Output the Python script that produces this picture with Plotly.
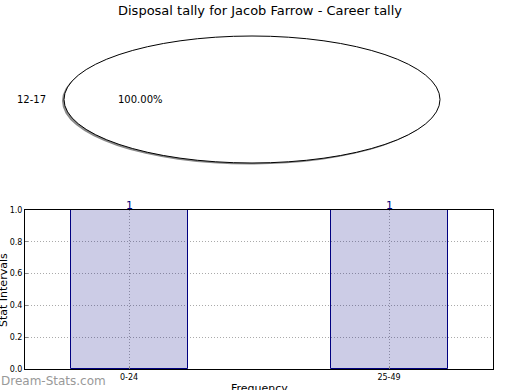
import plotly.graph_objects as go

title = "Disposal tally for Jacob Farrow - Career tally"
pie_labels = ["12-17"]
pie_values = [1]
bar_categories = ["0-24", "25-49"]
bar_values = [1, 1]
y_ticks = [0.0, 0.2, 0.4, 0.6, 0.8, 1.0]

W, H = 520, 390
def px(x): return x / W
def py(y): return 1 - y / H

fig = go.Figure()
xpos = list(range(len(bar_categories)))
fig.add_trace(go.Bar(
    x=xpos, y=bar_values, width=0.45,
    marker=dict(color="rgba(0,0,128,0.2)", line=dict(color="#000080", width=1)),
    hoverinfo="skip", showlegend=False,
))

total = sum(pie_values)
shapes = [
    # shadow
    dict(type="circle", xref="paper", yref="paper",
         x0=px(62), x1=px(438), y0=py(164.5), y1=py(37.5),
         line=dict(width=0), fillcolor="#8a8a8a", layer="below"),
    dict(type="circle", xref="paper", yref="paper",
         x0=px(64), x1=px(440), y0=py(163), y1=py(36),
         line=dict(color="#000000", width=1), fillcolor="#ffffff", layer="below"),
]
annotations = [
    dict(text=title, x=0.5, y=py(10.5), xref="paper", yref="paper", showarrow=False,
         font=dict(family="DejaVu Sans", size=13, color="#000"), xanchor="center", yanchor="middle"),
    dict(text=pie_labels[0], x=px(31), y=py(100), xref="paper", yref="paper", showarrow=False,
         font=dict(family="DejaVu Sans", size=10, color="#000"), xanchor="center", yanchor="middle"),
    dict(text="%.2f%%" % (100.0 * pie_values[0] / total), x=px(140), y=py(100), xref="paper", yref="paper",
         showarrow=False, font=dict(family="DejaVu Sans", size=10, color="#000"),
         xanchor="center", yanchor="middle"),
    dict(text="Stat Intervals", x=px(3), y=py(290), xref="paper", yref="paper", showarrow=False,
         textangle=-90, font=dict(family="DejaVu Sans", size=11, color="#000"),
         xanchor="center", yanchor="middle"),
    dict(text="Frequency", x=px(259), y=py(388), xref="paper", yref="paper", showarrow=False,
         font=dict(family="DejaVu Sans", size=11, color="#000"), xanchor="center", yanchor="middle"),
    dict(text="Dream-Stats.com", x=px(-1), y=py(381), xref="paper", yref="paper", showarrow=False,
         font=dict(family="DejaVu Sans", size=12, color="#999999"), xanchor="left", yanchor="middle"),
]
for xv, v in zip(xpos, bar_values):
    annotations.append(dict(text=str(v), x=xv, y=v, xref="x", yref="y", showarrow=False,
                            yshift=5, font=dict(family="DejaVu Sans", size=11, color="#000080"),
                            xanchor="center", yanchor="middle"))

fig.update_layout(
    template="none",
    width=W, height=H, margin=dict(l=0, r=0, t=0, b=0, pad=0), autosize=False,
    paper_bgcolor="white", plot_bgcolor="white",
    shapes=shapes, annotations=annotations, bargap=0,
    xaxis=dict(domain=[px(25), px(493)], range=[-0.4, 1.4], tickvals=xpos, ticktext=bar_categories,
               automargin=False,
               showline=True, mirror=True, linecolor="black", linewidth=1,
               showgrid=True, gridcolor="#aaaaaa", griddash="1px,2px", gridwidth=1,
               ticks="inside", ticklen=3, tickcolor="#888", zeroline=False,
               tickfont=dict(family="DejaVu Sans", size=8, color="#000")),
    yaxis=dict(domain=[py(369), py(210)], range=[0, 1], tickvals=y_ticks,
               ticktext=["%.1f" % v for v in y_ticks], automargin=False,
               showline=True, mirror=True, linecolor="black", linewidth=1,
               showgrid=True, gridcolor="#aaaaaa", griddash="1px,2px", gridwidth=1,
               ticks="inside", ticklen=3, tickcolor="#888", zeroline=False,
               tickfont=dict(family="DejaVu Sans", size=8, color="#000")),
)

fig.write_html("out.html")
